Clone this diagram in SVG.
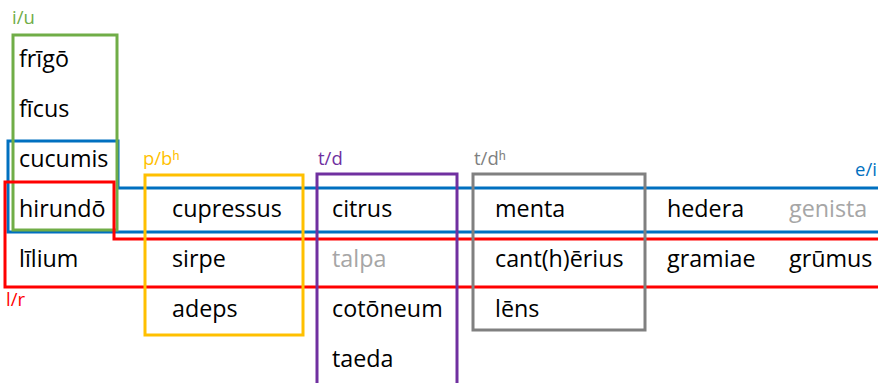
<svg xmlns="http://www.w3.org/2000/svg" width="878" height="383" viewBox="0 0 878 383">
<style>
.w{font-family:"Open Sans","Liberation Sans",sans-serif;font-size:23.3px;fill:#000}
.g{fill:#a6a6a6}
.l{font-family:"Open Sans","Liberation Sans",sans-serif;font-size:18.5px}
.b{fill:none;stroke-width:3}
</style>
<rect width="878" height="383" fill="#fff"/>
<g id="blue-e-i">
<path class="b" stroke="#0070c0" d="M880,188 H118 V141 H8 V232 H880"/>
<text class="l" x="855" y="176" fill="#0070c0">e/i</text>
</g>
<g id="green-i-u">
<rect class="b" stroke="#70ad47" x="13" y="35" width="104" height="195"/>
<text class="l" x="12" y="24" fill="#70ad47">i/u</text>
</g>
<g id="red-l-r">
<path class="b" stroke="#ff0000" d="M880,239 H114 V182 H5 V287 H880"/>
<text class="l" x="6" y="306" fill="#ff0000">l/r</text>
</g>
<g id="yellow-p-bh">
<rect class="b" stroke="#ffc000" x="145" y="175" width="158" height="160"/>
<text class="l" x="143" y="165" fill="#ffc000">p/bʰ</text>
</g>
<g id="purple-t-d">
<rect class="b" stroke="#7030a0" x="317" y="174" width="140" height="215"/>
<text class="l" x="318" y="165" fill="#7030a0">t/d</text>
</g>
<g id="gray-t-dh">
<rect class="b" stroke="#808080" x="473" y="174" width="172" height="156"/>
<text class="l" x="474" y="165" fill="#808080">t/dʰ</text>
</g>
<g id="words">
<text class="w" x="19" y="67">frīgō</text>
<text class="w" x="19" y="117">fīcus</text>
<text class="w" x="19" y="167">cucumis</text>
<text class="w" x="19" y="217">hirundō</text>
<text class="w" x="19" y="267">līlium</text>
<text class="w" x="172" y="217">cupressus</text>
<text class="w" x="172" y="267">sirpe</text>
<text class="w" x="172" y="317">adeps</text>
<text class="w" x="332" y="217">citrus</text>
<text class="w g" x="332" y="267">talpa</text>
<text class="w" x="332" y="317">cotōneum</text>
<text class="w" x="332" y="367">taeda</text>
<text class="w" x="495" y="217">menta</text>
<text class="w" x="495" y="267">cant(h)ērius</text>
<text class="w" x="495" y="317">lēns</text>
<text class="w" x="667" y="217">hedera</text>
<text class="w g" x="789" y="217">genista</text>
<text class="w" x="667" y="267">gramiae</text>
<text class="w" x="789" y="267">grūmus</text>
</g>
</svg>
